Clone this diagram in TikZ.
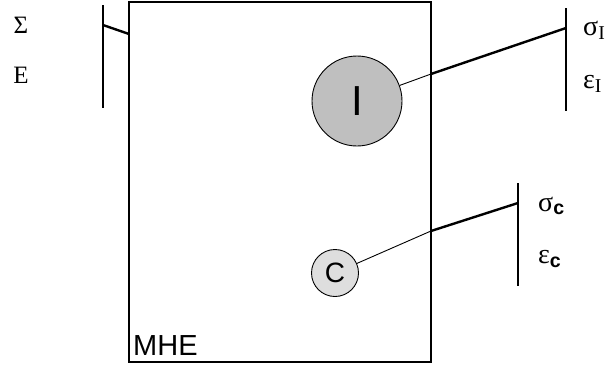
\documentclass[tikz,border=0pt]{standalone}
\usepackage{fontspec}
\setsansfont{Liberation Sans}
\newfontfamily\timesf{Liberation Serif}
\begin{document}
\begin{tikzpicture}[x=1pt, y=-1pt,
    thinlink/.style={line width=0.9pt},
    thicklink/.style={line width=2.4pt},
    bar/.style={line width=2.6pt},
    incl/.style={circle, draw, line width=0.9pt, inner sep=0pt},
    lbl/.style={anchor=west, inner sep=0pt, font=\timesf\fontsize{28}{28}\selectfont}]
    \useasboundingbox (0,0) rectangle (606,365);

    % Matrix
    \draw[line width=1.4pt] (129,2) rectangle (431,362);
    \node[anchor=base west, inner sep=0pt, font=\sffamily\fontsize{29}{29}\selectfont] (mhe) at (133,355) {MHE};
    \node[font=\timesf\fontsize{25}{25}\selectfont] (Sig) at (21,25) {Σ};
    \node[font=\timesf\fontsize{25}{25}\selectfont] (Eps) at (21,75) {E};
    \coordinate (mt) at (103,5);
    \coordinate (mb) at (103,108);
    \coordinate (mlink) at (103,25);
    \coordinate (mbox) at (129,34);
    \draw[bar] (mt) -- (mb);
    \draw[thicklink] (mlink) -- (mbox);

    % Inclusion I
    \node[incl, fill=black!25, minimum size=90pt, font=\sffamily\fontsize{42}{42}\selectfont] (inc) at (357,101) {I};
    \coordinate (it) at (566,8);
    \coordinate (ib) at (566,111);
    \coordinate (ilink) at (566,28);
    \coordinate (ibox) at (431,74);
    \draw[bar] (it) -- (ib);
    \draw[thinlink] (inc) -- (ibox);
    \draw[thicklink] (ibox) -- (ilink);
    \node[lbl] (sigI) at (583,30) {σ\textsubscript{I}};
    \node[lbl] (epsI) at (583,84) {ε\textsubscript{I}};

    % Coating C
    \node[incl, fill=black!13, minimum size=47pt, font=\sffamily\fontsize{28}{28}\selectfont] (coat) at (335,273) {C};
    \coordinate (ct) at (518,183);
    \coordinate (cb) at (518,286);
    \coordinate (clink) at (518,203);
    \coordinate (cbox) at (431,231);
    \draw[bar] (ct) -- (cb);
    \draw[thinlink] (coat) -- (cbox);
    \draw[thicklink] (cbox) -- (clink);
    \node[lbl] (sigc) at (538,206) {σ\textsubscript{\sffamily\bfseries c}};
    \node[lbl] (epsc) at (538,259) {ε\textsubscript{\sffamily\bfseries c}};
\end{tikzpicture}
\end{document}
